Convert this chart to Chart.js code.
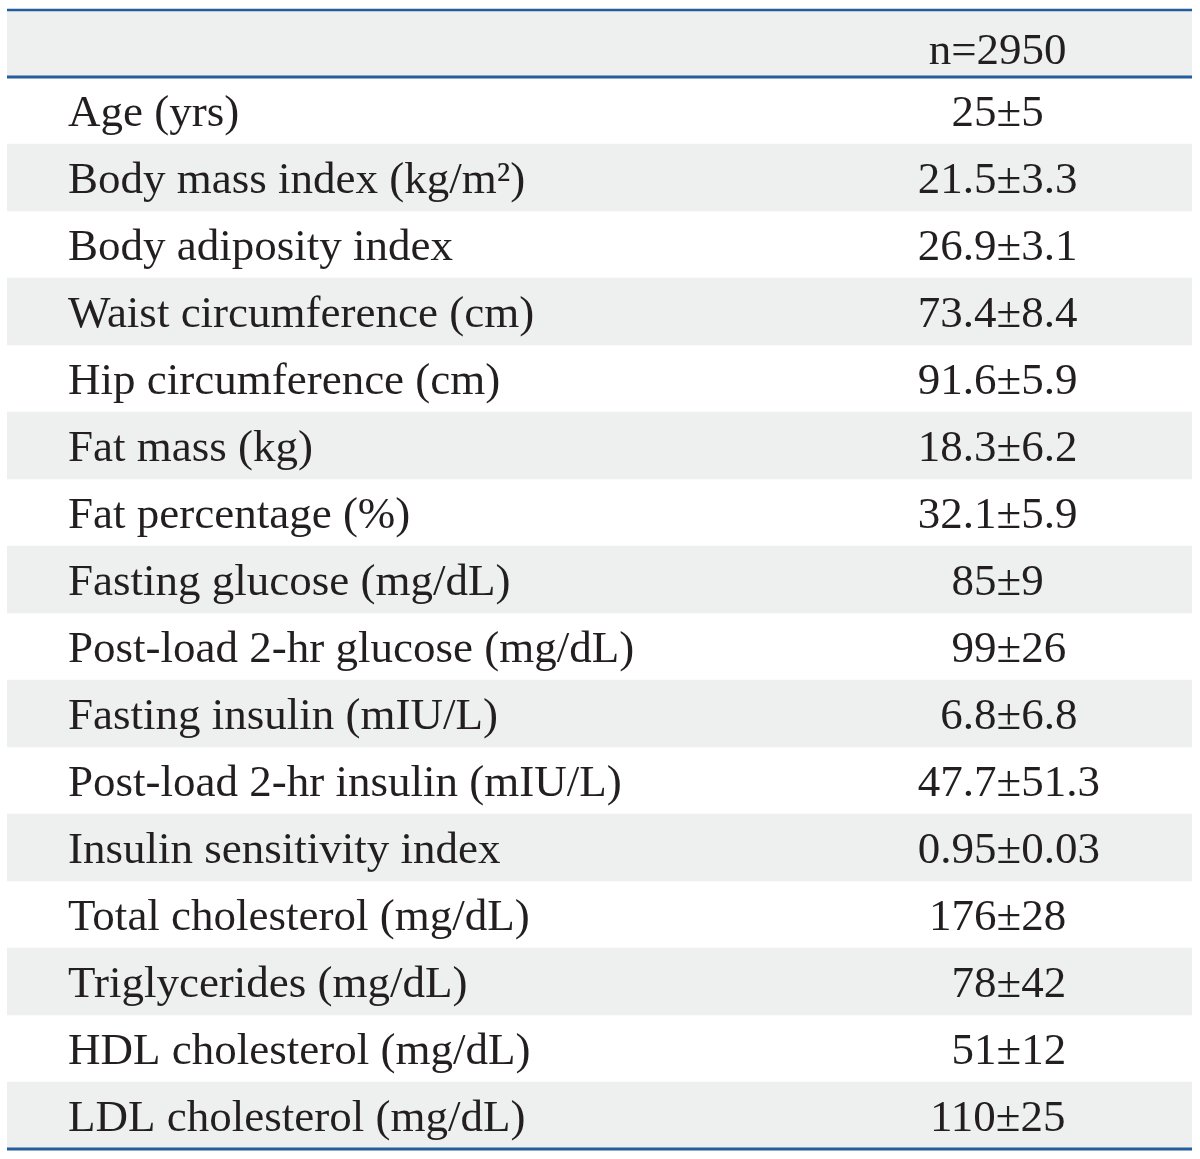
<!DOCTYPE html>
<html>
<head>
<meta charset="utf-8">
<script src="https://cdn.jsdelivr.net/npm/chart.js@4/dist/chart.umd.min.js"></script>
<style>
  html, body { margin:0; padding:0; background:#fff; }
  #wrap { width:1200px; height:1159px; }
</style>
</head>
<body>
<div id="wrap"><canvas id="tbl" width="1200" height="1159"></canvas></div>
<script>
// --- table content ---
const headerText = 'n=2950';
const variables = [
    'Age (yrs)',
    'Body mass index (kg/m\u00B2)',
    'Body adiposity index',
    'Waist circumference (cm)',
    'Hip circumference (cm)',
    'Fat mass (kg)',
    'Fat percentage (%)',
    'Fasting glucose (mg/dL)',
    'Post-load 2-hr glucose (mg/dL)',
    'Fasting insulin (mIU/L)',
    'Post-load 2-hr insulin (mIU/L)',
    'Insulin sensitivity index',
    'Total cholesterol (mg/dL)',
    'Triglycerides (mg/dL)',
    'HDL cholesterol (mg/dL)',
    'LDL cholesterol (mg/dL)'
];
// leading spaces keep the source's uneven centring
const values = [
    '25\u00B15',
    '21.5\u00B13.3',
    '26.9\u00B13.1',
    '73.4\u00B18.4',
    '91.6\u00B15.9',
    '18.3\u00B16.2',
    '32.1\u00B15.9',
    '85\u00B19',
    '  99\u00B126',
    '  6.8\u00B16.8',
    '  47.7\u00B151.3',
    '  0.95\u00B10.03',
    '176\u00B128',
    '  78\u00B142',
    '  51\u00B112',
    '110\u00B125'
];

const rowLabels = [''].concat(variables);
const FONT = '45px "Liberation Serif", "Times New Roman", serif';
const INK = '#231f20';
const RULE = '#245d9c';
const SHADE = '#eef0f0';

// alternate row bands (header + every second body row)
const bands = rowLabels.map((_, i) => i % 2 === 0 ? [0, 100] : null);

const tablePlugin = {
    id: 'tableText',
    afterDatasetsDraw(chart) {
        const ctx = chart.ctx;
        const xs = chart.scales.x, ys = chart.scales.y;
        const band = ys.getPixelForValue(1) - ys.getPixelForValue(0);
        const left = xs.getPixelForValue(0), right = xs.getPixelForValue(100);
        const labelX = xs.getPixelForValue(5.15);
        const valueX = xs.getPixelForValue(83.6);

        ctx.save();
        ctx.font = FONT;
        ctx.fillStyle = INK;
        ctx.textBaseline = 'alphabetic';

        // header
        ctx.textAlign = 'center';
        ctx.fillText(headerText, valueX, ys.getPixelForValue(0) + 20);

        // body rows
        variables.forEach((v, i) => {
            const yc = ys.getPixelForValue(i + 1);
            ctx.textAlign = 'left';
            ctx.fillText(v, labelX, yc + 15);
            ctx.textAlign = 'center';
            ctx.fillText(values[i], valueX, yc + 15);
        });

        // rules
        const top = ys.getPixelForValue(0) - band / 2;
        const headBottom = ys.getPixelForValue(0) + band / 2;
        const bottom = ys.getPixelForValue(rowLabels.length - 1) + band / 2;
        ctx.strokeStyle = RULE;
        [[top, 2.5], [headBottom, 3], [bottom, 3]].forEach(([y, w]) => {
            ctx.lineWidth = w;
            ctx.beginPath();
            ctx.moveTo(left, y);
            ctx.lineTo(right, y);
            ctx.stroke();
        });
        ctx.restore();
    }
};

new Chart(document.getElementById('tbl'), {
    type: 'bar',
    data: {
        labels: rowLabels,
        datasets: [{
            data: bands,
            backgroundColor: SHADE,
            borderWidth: 0,
            barPercentage: 1,
            categoryPercentage: 1
        }]
    },
    options: {
        indexAxis: 'y',
        responsive: false,
        animation: false,
        layout: { padding: { left: 7, right: 8, top: 10, bottom: 10 } },
        plugins: { legend: { display: false }, tooltip: { enabled: false } },
        scales: {
            x: { type: 'linear', min: 0, max: 100, display: false },
            y: { type: 'category', display: false, grid: { display: false } }
        }
    },
    plugins: [tablePlugin]
});
</script>
</body>
</html>
